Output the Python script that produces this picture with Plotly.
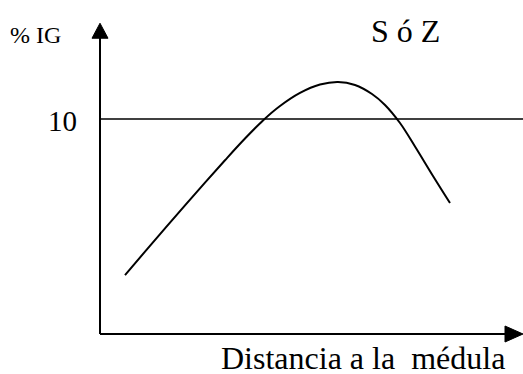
import plotly.graph_objects as go

# Curve: percentage of IG versus distance to the pith
distance = [2.5, 4.5, 6.5, 8.5, 10.5, 12.5, 14.5, 16.3, 18.0, 20.0, 22.0, 23.8,
            25.5, 27.2, 28.5, 30.0, 31.5, 33.3, 35.0]
ig_pct = [2.74, 3.83, 4.91, 5.98, 7.04, 8.08, 9.09, 9.93, 10.60, 11.21, 11.60, 11.72,
          11.58, 11.16, 10.65, 9.81, 8.72, 7.35, 6.09]

threshold = 10
threshold_label = "10"
y_title = "% IG"
x_title = "Distancia a la\u00a0 médula"
corner_note = "S ó Z"

X_MIN, X_MAX = -10.0, 42.3
Y_MIN, Y_MAX = -1.86, 15.53
AX_X_END = 42.3
AX_Y_END = 14.45

fig = go.Figure()

fig.add_trace(go.Scatter(
    x=distance, y=ig_pct, mode="lines",
    line=dict(color="black", width=2, shape="spline", smoothing=1.0),
    hoverinfo="skip", showlegend=False,
))

# Threshold line at 10 %
fig.add_shape(type="line", xref="x", yref="y", x0=0, x1=X_MAX, y0=threshold, y1=threshold,
              line=dict(color="black", width=1.6))

# Axis lines
fig.add_shape(type="line", xref="x", yref="y", x0=0, x1=AX_X_END - 1.5, y0=0, y1=0,
              line=dict(color="black", width=2))
fig.add_shape(type="line", xref="x", yref="y", x0=0, x1=0, y0=0, y1=AX_Y_END - 0.5,
              line=dict(color="black", width=2))

# Arrow heads (x: 10 px/unit, y: 21.5 px/unit)
hx = 1.8
hw = 8 / 21.5
fig.add_shape(type="path", xref="x", yref="y",
              path=f"M {AX_X_END},0 L {AX_X_END - hx},{hw} L {AX_X_END - hx},{-hw} Z",
              fillcolor="black", line=dict(color="black", width=1))
vy = 15 / 21.5
vw = 0.8
fig.add_shape(type="path", xref="x", yref="y",
              path=f"M 0,{AX_Y_END} L {-vw},{AX_Y_END - vy} L {vw},{AX_Y_END - vy} Z",
              fillcolor="black", line=dict(color="black", width=1))

font = "Liberation Serif, Times New Roman, serif"
fig.add_annotation(x=-3.8, y=9.9, xref="x", yref="y", text=threshold_label,
                   showarrow=False, font=dict(family=font, size=29, color="black"))
fig.add_annotation(x=-6.5, y=13.9, xref="x", yref="y", text=y_title,
                   showarrow=False, font=dict(family=font, size=24, color="black"))
fig.add_annotation(x=30.5, y=14.1, xref="x", yref="y", text=corner_note,
                   showarrow=False, font=dict(family=font, size=32, color="black"))
fig.add_annotation(x=26.3, y=-1.12, xref="x", yref="y", text=x_title,
                   showarrow=False, font=dict(family=font, size=32, color="black"))

fig.update_layout(
    width=523, height=374,
    margin=dict(l=0, r=0, t=0, b=0),
    paper_bgcolor="white", plot_bgcolor="white",
    xaxis=dict(range=[X_MIN, X_MAX], visible=False, fixedrange=True),
    yaxis=dict(range=[Y_MIN, Y_MAX], visible=False, fixedrange=True),
    showlegend=False,
)

fig.write_html("out.html")
